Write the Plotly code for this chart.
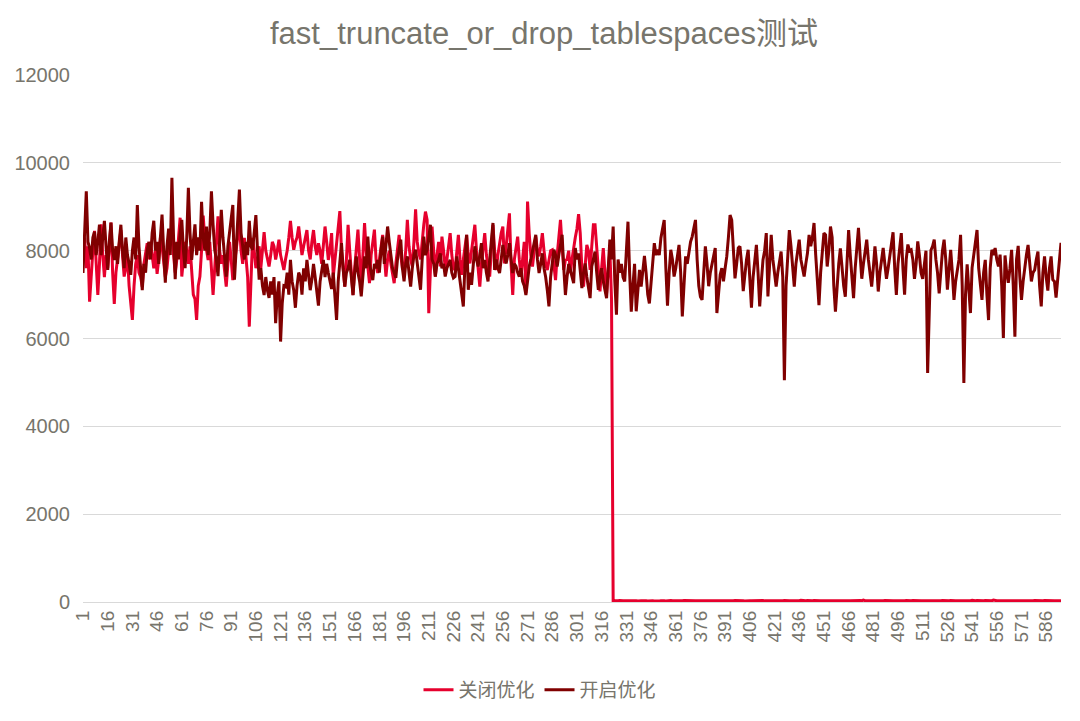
import plotly.graph_objects as go

title_text = "fast_truncate_or_drop_tablespaces测试"
series_names = ["关闭优化", "开启优化"]
tick_labels = [str(v) for v in range(1, 596, 15)]
y_ticks = list(range(0, 12001, 2000))

# 开启优化 (optimisation on)
open_opt = [
    7490, 8400, 9350, 8200, 8060, 7800, 8300, 8430, 7900, 8200,
    8590, 7900, 8300, 8680, 8100, 7560, 8200, 8640, 8000, 7790,
    8100, 7700, 8200, 8590, 8000, 7600, 8300, 7900, 7700, 7450,
    8000, 8300, 7800, 9040, 8100, 7600, 7100, 7700, 7500, 8000,
    8200, 7800, 8400, 8680, 8000, 8200, 7700, 8300, 8820, 8000,
    7270, 8100, 8500, 7900, 9660, 8300, 7350, 8200, 7800, 8400,
    8700, 8000, 7600, 8300, 9430, 8400, 7790, 8200, 8600, 7900,
    8300, 8000, 9110, 8300, 8000, 8550, 7900, 8400, 9350, 8600,
    8020, 7800, 7420, 8200, 8930, 8300, 7900, 7410, 8100, 8400,
    8700, 9040, 7340, 8000, 8600, 9390, 8400, 8020, 7800, 8200,
    7900, 8680, 8100, 8020, 8400, 8810, 8000, 7340, 7600, 7200,
    6990, 7400, 7100, 6925, 7300, 7000, 7400, 6350, 7000, 7300,
    5930, 6800, 7200, 7180, 7500, 7000, 7790, 7300, 7100, 6700,
    7200, 7500, 7410, 7000, 7600, 7300, 7790, 7500, 7100, 7340,
    7700, 7400, 7100, 6750, 7300, 7500, 7790, 7400, 7700, 7490,
    7300, 7130, 7500, 7000, 6424, 7300, 7700, 8170, 7600, 7180,
    7500, 7600, 7790, 7300, 6990, 7500, 7870, 7500, 7300, 6960,
    7500, 7870, 7600, 8320, 7700, 7500, 7330, 7700, 7600, 7790,
    7500, 8000, 8320, 7700, 8100, 8550, 8200, 7870, 7600, 7500,
    7380, 7800, 8000, 8250, 7600, 7300, 7700, 7870, 7500, 7180,
    7600, 7900, 8020, 7700, 7400, 7110, 7800, 8320, 7900, 8020,
    8300, 8590, 7800, 7700, 7410, 7700, 7800, 7940, 7600, 7700,
    7410, 7600, 7700, 7790, 7500, 7380, 7410, 7870, 7600, 7300,
    7100, 6730, 7700, 8360, 7110, 7500, 7220, 7700, 8100, 7800,
    7640, 7900, 8170, 7600, 7790, 7500, 7300, 7800, 8200, 8630,
    7560, 7800, 7600, 7490, 7800, 8130, 7900, 7710, 7900, 8170,
    7800, 7490, 7700, 7640, 7500, 7410, 7600, 7300, 7200, 6990,
    7300, 7640, 7800, 8000, 8200, 8360, 7800, 7490, 7700, 7940,
    7600, 7400, 7100, 6730, 7400, 7800, 8020, 7900, 7640, 7900,
    8100, 8360, 7600, 6990, 7400, 7700, 7560, 7400, 7260, 8060,
    7800, 7940, 7500, 7150, 7500, 7710, 7400, 7100, 6920, 7640,
    7800, 7980, 7500, 7110, 7400, 7600, 7300, 7100, 6920, 7600,
    8250, 7800, 8550, 7300, 6540, 7800, 7500, 7700, 7400, 7300,
    8000, 8660, 7500, 6610, 7200, 7700, 6620, 7200, 7560, 7180,
    7500, 7880, 7500, 7000, 6800, 7300, 7800, 8170, 7900, 8020,
    7900, 8290, 8500, 8700, 7600, 6750, 7500, 8020, 7800, 7410,
    7600, 7900, 8130, 7500, 6500, 7200, 7870, 7700, 8000, 8200,
    8320, 8500, 8700, 7800, 7200, 6950, 6880, 7500, 8100, 7700,
    7190, 7500, 7700, 7900, 8060, 6580, 7000, 7450, 7600, 7300,
    7600, 7870, 8300, 8810, 8700, 8100, 7370, 7700, 8060, 8100,
    7700, 7080, 7500, 7800, 8020, 7300, 6700, 7400, 7800, 8130,
    7500, 6730, 7300, 7790, 8000, 8400, 6960, 7600, 8360, 7800,
    7500, 7180, 7500, 7700, 7980, 7400, 5050, 7200, 8000, 8470,
    8100, 7600, 7180, 7700, 8000, 8250, 7800, 7600, 7410, 7700,
    7940, 8360, 8100, 8300, 8630, 7910, 7300, 6760, 7500, 8000,
    8400, 8360, 7640, 8000, 8550, 8300, 7200, 6610, 7300, 7700,
    8050, 7500, 7200, 6950, 7600, 8470, 7900, 7300, 6920, 7600,
    8000, 8520, 7900, 7360, 7700, 8000, 8250, 7800, 7500, 7180,
    7600, 8100, 7700, 7070, 7500, 7800, 8060, 7700, 7360, 7600,
    7900, 8100, 8420, 7600, 6990, 7700, 8100, 8400, 7600, 7000,
    7800, 8140, 8000, 8020, 7800, 7360, 7700, 8210, 7900, 7500,
    7360, 7700, 8000, 5215, 7000, 8010, 8100, 8250, 7800, 7500,
    7030, 7600, 8000, 8250, 7800, 7110, 7600, 8020, 7500, 6880,
    7300, 7600, 7790, 8360, 7200, 4990, 7000, 7690, 7000, 6580,
    7610, 7900, 8200, 8470, 7600, 7200, 6880, 7500, 7790, 7000,
    6420, 7600, 8020, 7900, 8060, 7800, 7640, 7910, 7200, 6010,
    7890, 7500, 7270, 7600, 8020, 7200, 6040, 7800, 8110, 7400,
    6880, 7300, 7640, 7900, 8130, 7700, 7300, 7500, 7560, 7800,
    7980, 7200, 6730, 7500, 7870, 7400, 7090, 7600, 7870, 7340,
    7300, 6930, 7400, 7800, 8180,
]

# 关闭优化 (optimisation off)
close_opt = [
    7900, 8300, 7600, 8100, 6840, 7500, 8000, 8450, 7800, 6990,
    7700, 8600, 7900, 7400, 7900, 7600, 8100, 8640, 7500, 6790,
    7500, 7800, 8100, 8470, 7900, 7410, 7600, 7900, 7200, 6800,
    6425, 7200, 7700, 7900, 7500, 7400, 7180, 7700, 8000, 8170,
    7800, 8200, 7900, 7600, 8000, 7470, 7800, 8300, 8100, 7700,
    7400, 7600, 8000, 8200, 8400, 7900, 7500, 7800, 8300, 8750,
    7410, 7800, 8200, 8000, 7700, 8100, 7600, 7000, 6900, 6425,
    7200, 7410, 8000, 8800, 8250, 8000, 7790, 8200, 7600, 6990,
    7600, 8200, 8780, 8000, 7700, 7900, 7500, 7180, 7700, 8200,
    7800, 7330, 7700, 8000, 8300, 8630, 8000, 7700, 8290, 7900,
    7400, 6270, 7500, 8290, 8000, 7600, 7790, 8100, 7600, 8000,
    8420, 8000, 7800, 7640, 7900, 8200, 8100, 7800, 8000, 8250,
    7900, 7700, 7560, 7800, 8000, 8300, 8680, 8300, 8020, 8200,
    8300, 8550, 8200, 7900, 8100, 8300, 8470, 8000, 7800, 8200,
    8470, 8100, 7900, 8170, 8000, 7700, 8200, 8550, 8200, 7790,
    8000, 8400, 7410, 7800, 8300, 8600, 8900, 8000, 7500, 7180,
    7800, 8590, 8000, 7500, 6990, 7600, 8100, 8480, 7800, 7300,
    7900, 8630, 8000, 7600, 7260, 7900, 8200, 8480, 7800, 7490,
    7800, 8100, 8360, 7900, 7410, 7800, 8000, 7700, 7500, 7260,
    7700, 8000, 8360, 7900, 7600, 7560, 8000, 8700, 8100, 7800,
    7640, 8200, 8940, 8200, 7940, 7800, 8300, 8600, 8890, 8700,
    6576, 7700, 8550, 8000, 7410, 7900, 8200, 7640, 8320, 8000,
    7600, 7790, 8100, 8400, 7900, 7600, 7560, 8000, 8360, 7800,
    7450, 7800, 8100, 8360, 7900, 7710, 8000, 8300, 8590, 8000,
    7600, 7180, 7700, 8100, 8400, 7900, 7600, 7410, 8000, 8590,
    8000, 7560, 7900, 8200, 8400, 8550, 7710, 8100, 8500, 8850,
    7700, 6990, 7800, 8100, 8320, 7800, 7410, 7800, 8200, 7030,
    9120, 8400, 7900, 7640, 8000, 8320, 8000, 7870, 8100, 8400,
    8000, 7700, 7560, 7800, 8000, 8020, 7600, 7330, 7900, 8300,
    8700, 8100, 7560, 7790, 7800, 8000, 7490, 7800, 8100, 8300,
    8500, 8830, 8400, 7600, 7180, 7700, 8130, 8000, 7560, 8100,
    8590, 8590, 8000, 7500, 7070, 7600, 8060, 7500, 7030, 7560,
    8000, 6900, 25, 30, 22, 28, 35, 24, 30, 26,
    28, 31, 24, 27, 33, 25, 29, 22, 30, 27,
    26, 32, 28, 24, 30, 35, 27, 23, 29, 31,
    25, 28, 33, 26, 24, 30, 28, 36, 27, 25,
    29, 31, 26, 24, 28, 33, 30, 27, 25, 29,
    32, 28, 26, 30, 35, 29, 27, 24, 31, 28,
    26, 30, 33, 27, 25, 29, 38, 31, 28, 26,
    30, 27, 24, 29, 32, 28, 35, 30, 26, 28,
    31, 27, 25, 30, 34, 28, 26, 29, 31, 27,
    24, 30, 28, 33, 26, 29, 31, 27, 40, 30,
    28, 26, 32, 29, 27, 30, 35, 28, 25, 31,
    29, 27, 33, 30, 26, 28, 38, 31, 27, 29,
    32, 28, 26, 30, 34, 29, 27, 25, 31, 28,
    30, 33, 27, 29, 36, 31, 28, 26, 30, 32,
    29, 27, 31, 28, 35, 30, 26, 29, 33, 28,
    30, 27, 32, 29, 45, 31, 28, 30, 34, 29,
    27, 31, 28, 33, 30, 26, 29, 32, 28, 30,
    35, 29, 27, 31, 28, 40, 32, 29, 27, 30,
    33, 28, 30, 29, 35, 31, 27, 30, 32, 28,
    29, 34, 30, 27, 31, 29, 36, 30, 28, 32,
    30, 27, 33, 29, 31, 28, 30, 35, 29, 27,
    31, 30, 28, 34, 29, 32, 30, 27, 31, 29,
    38, 30, 28, 33, 29, 31, 27, 30, 34, 29,
    32, 28, 30, 45, 31, 29, 27, 33, 30, 28,
    31, 29, 35, 30, 27, 32, 29, 28, 31, 30,
    28, 33, 29, 31, 30, 27, 32, 29, 34, 30,
    29, 31, 28, 30, 32, 29, 33, 30, 28, 31,
    30, 27, 29, 32, 30,
]

categories = list(range(1, max(len(open_opt), len(close_opt)) + 1))

text_color = "#77756C"
font_family = "Liberation Sans, Arial, Noto Sans CJK SC, sans-serif"

# page body has an 8px default margin: figure drawn 8px smaller and offset
W, H, OFF = 1080 - 8, 721 - 8, 8

fig = go.Figure()
fig.add_trace(go.Scatter(
    x=categories[:len(close_opt)], y=close_opt, mode="lines", name=series_names[0],
    line=dict(color="#E6002D", width=3),
))
fig.add_trace(go.Scatter(
    x=categories[:len(open_opt)], y=open_opt, mode="lines", name=series_names[1],
    line=dict(color="#800000", width=3),
))

fig.update_layout(
    width=W, height=H,
    paper_bgcolor="white", plot_bgcolor="white",
    margin=dict(l=83 - OFF, r=19, t=75 - OFF, b=119, autoexpand=False),
    font=dict(family=font_family, color=text_color, size=18),
    title=dict(text=title_text, x=0.5, xanchor="center", y=1 - (33 - OFF) / H, yanchor="middle",
               xref="container", yref="container",
               font=dict(size=31, color=text_color, family=font_family)),
    showlegend=True,
    legend=dict(orientation="h", x=(540 - OFF) / W, xanchor="center", xref="container",
                y=1 - (690 - OFF) / H, yanchor="middle", yref="container",
                font=dict(size=19, color=text_color, family=font_family),
                traceorder="normal"),
    xaxis=dict(
        range=[1, len(categories)], tickmode="array",
        tickvals=[int(t) for t in tick_labels], ticktext=tick_labels,
        tickangle=-90, showgrid=False, zeroline=False, showline=False,
        ticks="", ticklabelstandoff=4, tickfont=dict(size=19, color=text_color),
    ),
    yaxis=dict(
        range=[0, 12000], tickmode="array", tickvals=y_ticks,
        ticktext=[str(v) for v in y_ticks],
        showgrid=True, gridcolor="#D9D9D9", gridwidth=1, zeroline=True,
        zerolinecolor="#D9D9D9", zerolinewidth=1, ticks="", ticklabelstandoff=12,
        tickfont=dict(size=20, color=text_color),
    ),
)

fig.write_html("out.html")
